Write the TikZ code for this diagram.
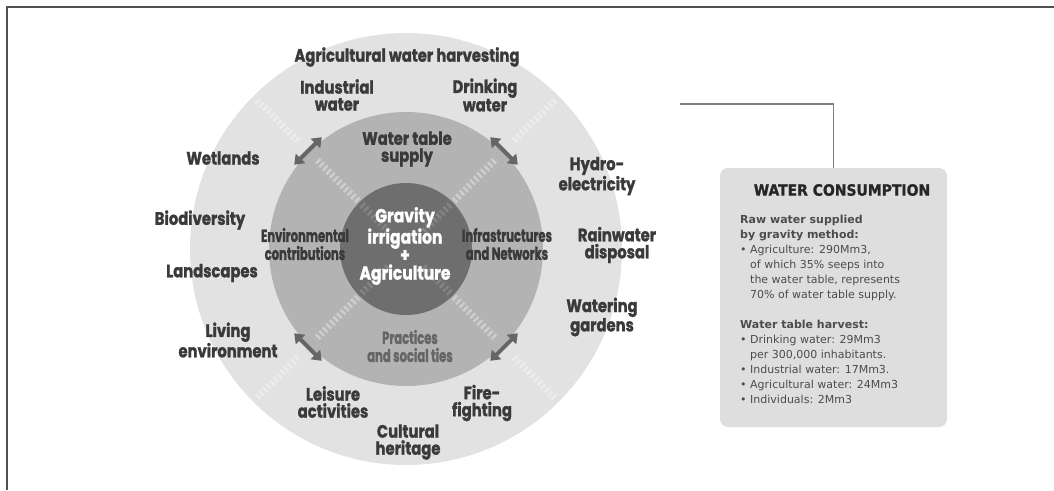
\documentclass[tikz,border=0pt]{standalone}
\usepackage{fontspec}
\usetikzlibrary{arrows.meta,calc}
\newfontfamily\ringfont[FakeStretch=0.82,BoldFeatures={FakeBold=1.3}]{Poppins}
\newfontfamily\hubfont[FakeStretch=0.66,BoldFeatures={FakeBold=1.3}]{Poppins}
\newfontfamily\boxfont{DejaVu Sans}
\newfontfamily\boxhead[BoldFeatures={FakeBold=1.2}]{DejaVu Sans Condensed}
\definecolor{ringout}{HTML}{E2E2E2}
\definecolor{ringmid}{HTML}{B3B3B3}
\definecolor{ringhub}{HTML}{6E6E6E}
\definecolor{labelgray}{HTML}{3A3A3A}
\definecolor{softgray}{HTML}{666666}
\definecolor{boxgray}{HTML}{DEDEDE}
\definecolor{framegray}{HTML}{505050}
\begin{document}
\begin{tikzpicture}[x=1pt,y=-1pt,
  lbl/.style={font=\ringfont\bfseries\fontsize{18}{17}\selectfont,text=labelgray,align=center,inner sep=0pt},
  mid/.style={font=\hubfont\bfseries\fontsize{17.5}{18}\selectfont,text=labelgray,align=center,inner sep=0pt},
  twoway/.style={{Triangle[length=9pt,width=13pt]}-{Triangle[length=9pt,width=13pt]},line width=4pt,softgray},
  rail/.style={white,opacity=0.35,line width=7pt,dash pattern=on 2.5pt off 2.5pt}]
\useasboundingbox (0,0) rectangle (1054,490);
\draw[framegray,line width=2pt] (7,490) -- (7,7) -- (1054,7);
\fill[ringout] (406,249) circle (216);
\fill[ringmid] (406,249) circle (137);
\fill[ringhub] (406,249) circle (66);
\foreach \a in {45,135,225,315} {
  \draw[rail,opacity=0.15] ($(406,249)+(\a:25)$) -- ($(406,249)+(\a:64)$);
  \draw[rail] ($(406,249)+(\a:68)$) -- ($(406,249)+(\a:128)$);
  \draw[rail] ($(406,249)+(\a:153)$) -- ($(406,249)+(\a:212)$);
  \draw[twoway] ($(406,249)+(\a-8:140)$) -- ($(406,249)+(\a+8:140)$);
}
\node[lbl] (harvest) at (407,57) {Agricultural water harvesting};
\node[lbl] (indus) at (337,95) {Industrial\\water};
\node[lbl] (drink) at (485,95) {Drinking\\water};
\node[lbl] (hydro) at (597,176) {Hydro-\\electricity};
\node[lbl] (rainw) at (617,245) {Rainwater\\disposal};
\node[lbl] (garden) at (602,317) {Watering\\gardens};
\node[lbl] (fire) at (482,403) {Fire-\\fighting};
\node[lbl] (herit) at (408,442) {Cultural\\heritage};
\node[lbl] (leisure) at (333,402) {Leisure\\activities};
\node[lbl] (living) at (228,340) {Living\\environment};
\node[lbl] (landsc) at (212,273) {Landscapes};
\node[lbl] (biodiv) at (200,220) {Biodiversity};
\node[lbl] (wetl) at (223,158) {Wetlands};
\node[lbl] (tablesup) at (407,149) {Water table\\supply};
\node[mid] (envir) at (305,244) {Environmental\\contributions};
\node[mid] (infra) at (507,244) {Infrastructures\\and Networks};
\node[mid,text=softgray] (ties) at (410,346) {Practices\\and social ties};
\node[lbl,text=white,font=\ringfont\bfseries\fontsize{19}{18}\selectfont] (hub) at (405,246) {Gravity\\irrigation\\+\\Agriculture};
\node[fill=boxgray,rounded corners=8pt,minimum width=227pt,minimum height=259pt,inner sep=0pt] (consum) at (833.5,297.5) {};
\coordinate (lead) at (680,104);
\draw[gray,line width=1.5pt] (lead) -| (consum.north);
\node[font=\boxhead\bfseries\fontsize{15.5}{15}\selectfont,text=black!85] (ctitle) at (842,190) {WATER CONSUMPTION};
\node[font=\boxfont\fontsize{11}{15}\selectfont,text=black!70,align=left,anchor=north west,inner sep=0pt] (cbody) at (740,215) {%
\textbf{Raw water supplied}\\
\textbf{by gravity method:}\\
\textbullet{} Agriculture: 290Mm3,\\
\phantom{\textbullet{} }of which 35\% seeps into\\
\phantom{\textbullet{} }the water table, represents\\
\phantom{\textbullet{} }70\% of water table supply.\\[15pt]
\textbf{Water table harvest:}\\
\textbullet{} Drinking water: 29Mm3\\
\phantom{\textbullet{} }per 300,000 inhabitants.\\
\textbullet{} Industrial water: 17Mm3.\\
\textbullet{} Agricultural water: 24Mm3\\
\textbullet{} Individuals: 2Mm3};
\end{tikzpicture}
\end{document}
